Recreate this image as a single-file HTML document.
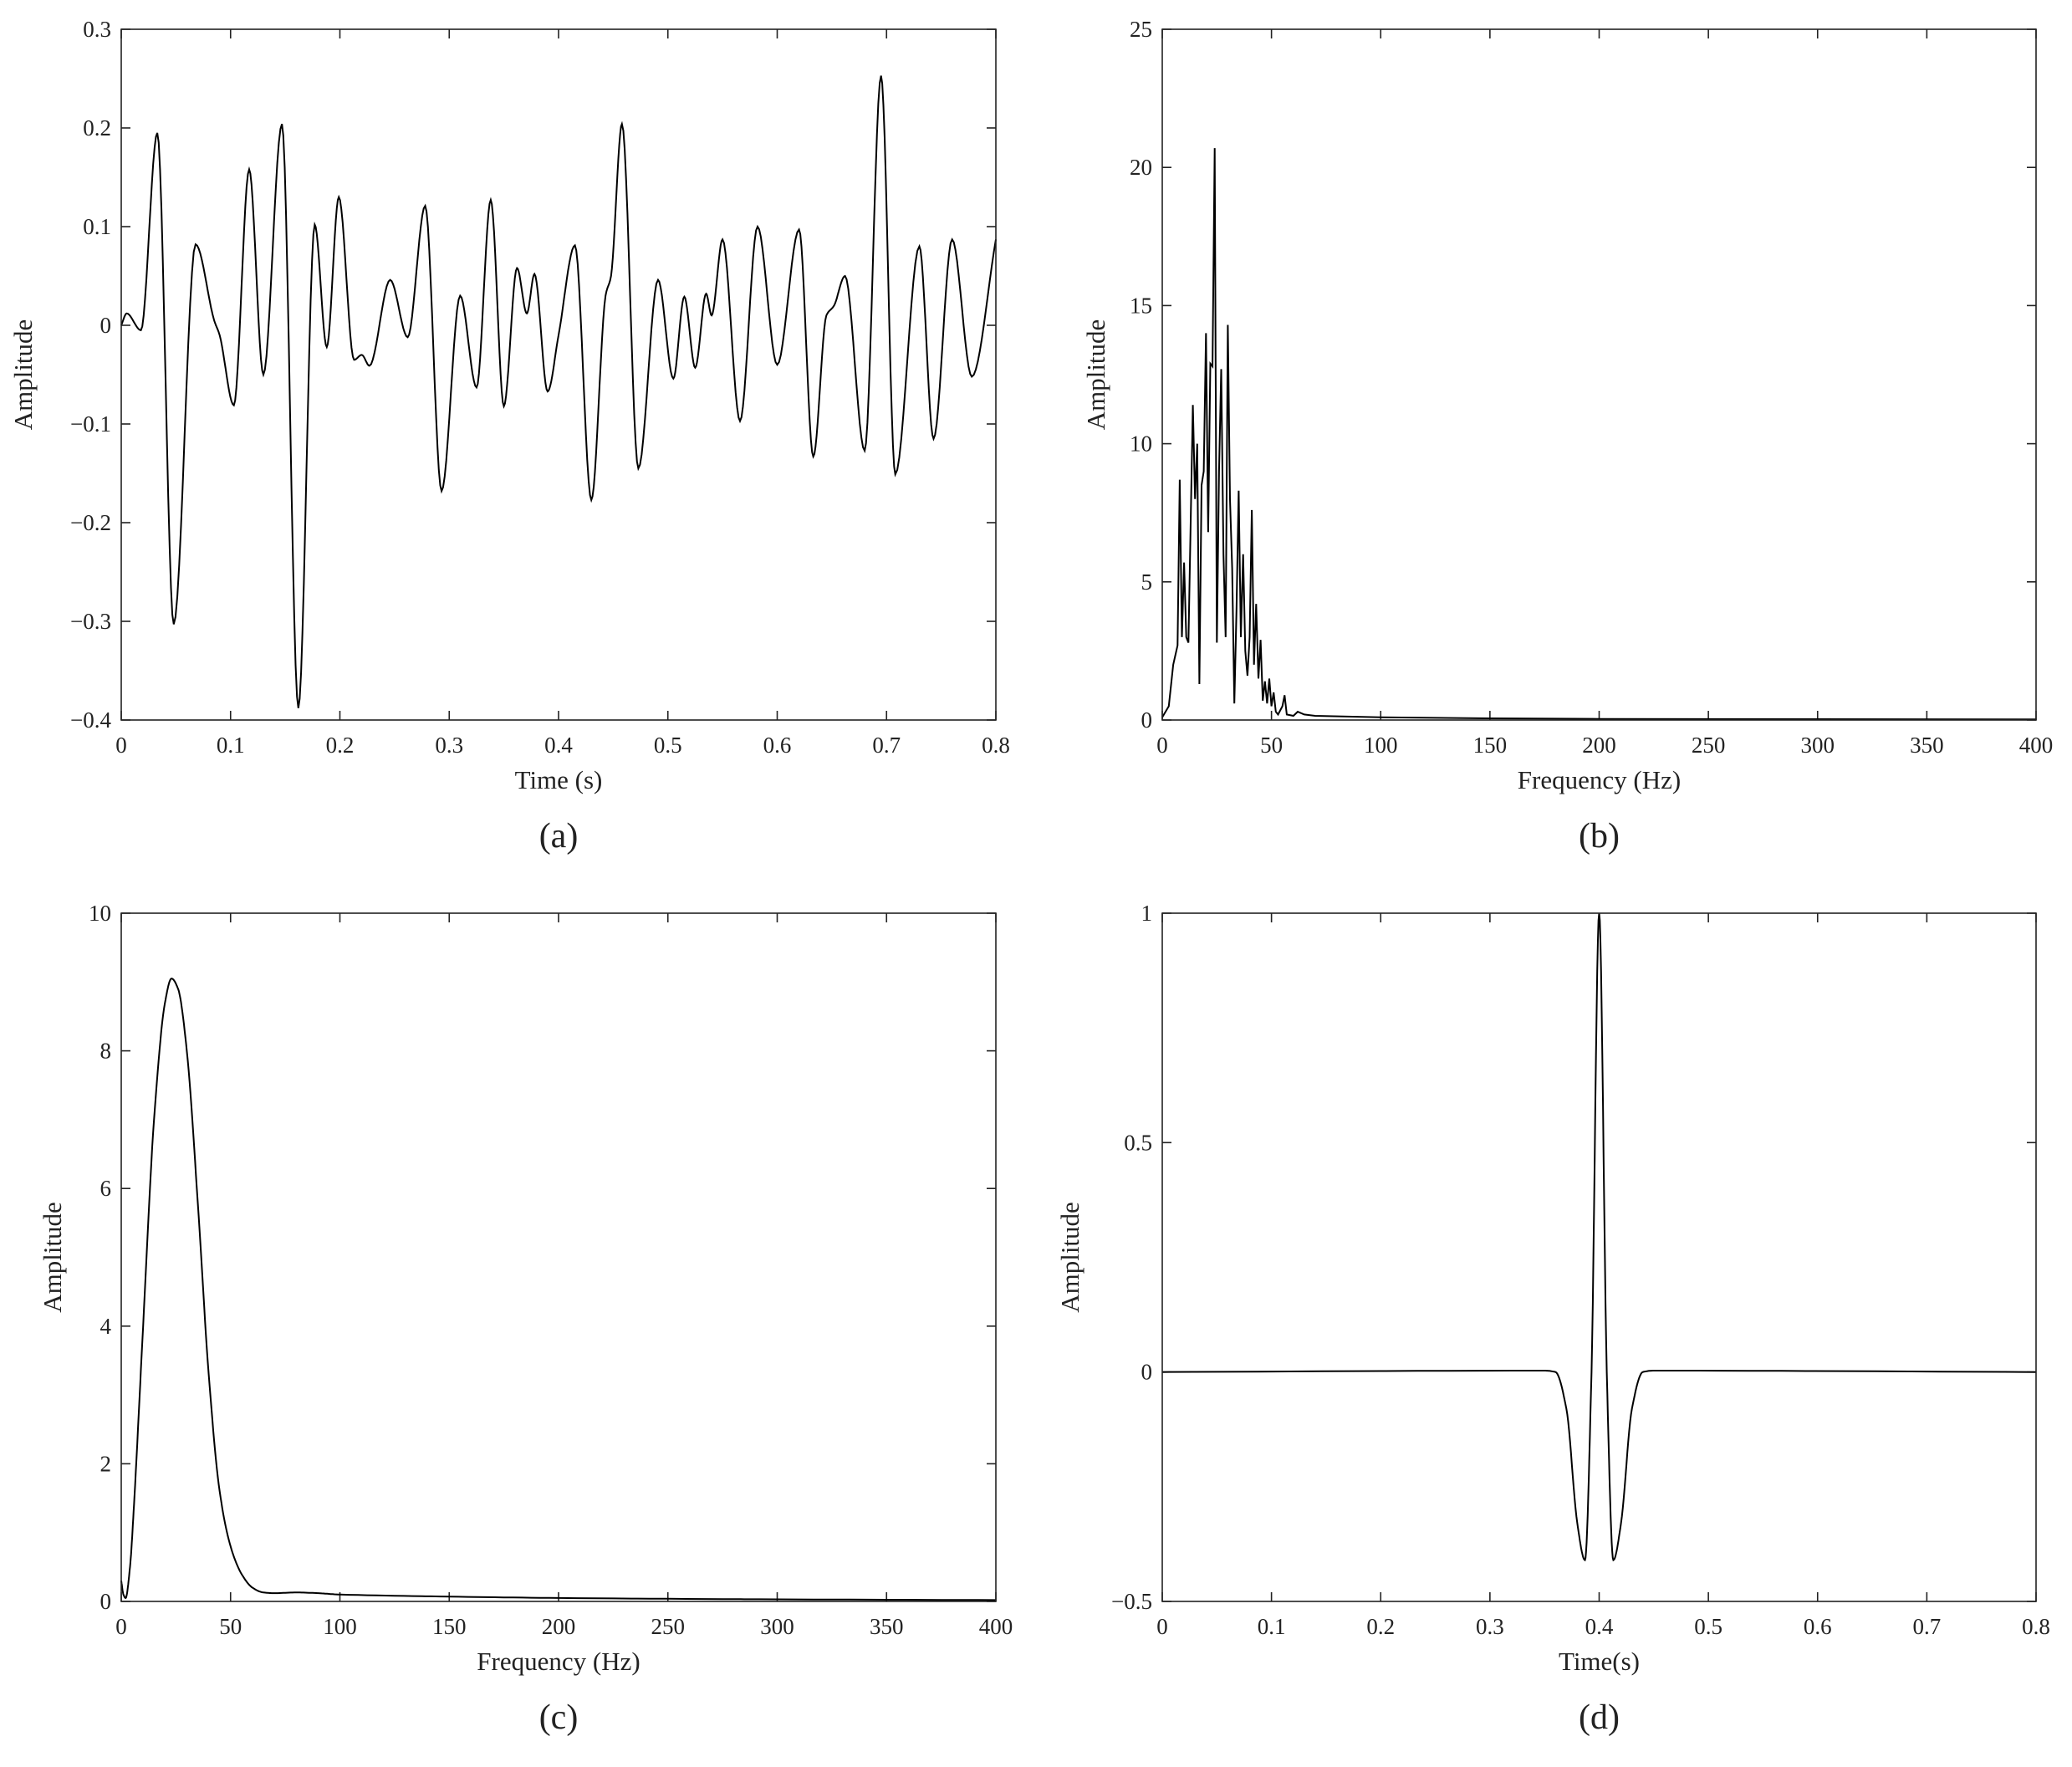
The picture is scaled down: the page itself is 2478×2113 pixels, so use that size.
<!DOCTYPE html>
<html><head><meta charset="utf-8"><style>
html,body{margin:0;padding:0;background:#fff}
svg{display:block}
text{font-family:"Liberation Serif",serif;fill:#222}
</style></head><body>
<svg id="fig" width="2478" height="2113" viewBox="0 0 2478 2113" xmlns="http://www.w3.org/2000/svg"></svg>
<script>
// Panel (a) seismic trace
const aTimes=[0,0.005,0.018,0.033,0.048,0.068,0.085,0.09,0.103,0.117,0.13,0.147,0.162,0.177,0.188,0.199,0.213,0.22,0.227,0.246,0.262,0.278,0.293,0.31,0.325,0.338,0.35,0.362,0.371,0.378,0.39,0.4,0.415,0.43,0.443,0.448,0.458,0.473,0.491,0.505,0.515,0.525,0.535,0.54,0.55,0.566,0.582,0.6,0.62,0.633,0.645,0.652,0.662,0.68,0.695,0.708,0.73,0.743,0.76,0.778,0.8];
const aValues=[0,0.012,-0.005,0.195,-0.303,0.082,0.005,-0.01,-0.081,0.158,-0.05,0.204,-0.388,0.102,-0.022,0.13,-0.035,-0.03,-0.041,0.046,-0.012,0.121,-0.168,0.03,-0.063,0.127,-0.082,0.058,0.012,0.052,-0.067,-0.01,0.081,-0.177,0.03,0.05,0.204,-0.145,0.046,-0.054,0.029,-0.043,0.032,0.01,0.087,-0.097,0.1,-0.04,0.097,-0.133,0.01,0.02,0.05,-0.127,0.253,-0.151,0.08,-0.115,0.087,-0.052,0.087];
// Panel (b) amplitude spectrum
const bFreqs=[0,3,5,7,8,9,10,11,12,14,15,16,17,18,19,20,21,22,23,24,25,26,27,28,29,30,31,32,33,34,35,36,37,38,39,40,41,42,43,44,45,46,47,48,49,50,51,52,53,55,56,57,60,62,65,70,100,150,200,300,400];
const bAmps=[0.1,0.5,2,2.7,8.7,3,5.7,3,2.8,11.4,8,10,1.3,8.5,9,14,6.8,12.9,12.8,20.7,2.8,9,12.7,6,3,14.3,8,5.5,0.6,4,8.3,3,6,2.5,1.6,3,7.6,2,4.2,1.5,2.9,0.7,1.4,0.6,1.5,0.5,1,0.3,0.2,0.5,0.9,0.2,0.15,0.3,0.2,0.15,0.1,0.06,0.04,0.03,0.02];
// Panel (c) wavelet spectrum
const cFreqs=[0,1,2,4,6,10,15,20,23,26,30,35,40,45,50,55,60,65,70,80,90,100,150,200,300,400];
const cAmps=[0.3,0.1,0.05,0.5,1.5,4,7,8.7,9.05,8.9,8,5.8,3.3,1.6,0.8,0.4,0.2,0.13,0.12,0.13,0.12,0.1,0.07,0.05,0.03,0.02];
// Panel (d) Ricker wavelet
const dTimes=[0,0.35,0.36,0.37,0.38,0.387,0.393,0.4,0.407,0.413,0.42,0.43,0.44,0.45,0.8];
const dValues=[0,0.003,0,-0.08,-0.33,-0.41,0,1,0,-0.41,-0.33,-0.08,0,0.003,0];
// ticks
const aXTicks=[0,0.1,0.2,0.3,0.4,0.5,0.6,0.7,0.8];
const aYTicks=[-0.4,-0.3,-0.2,-0.1,0,0.1,0.2,0.3];
const aYLabels=["\u22120.4","\u22120.3","\u22120.2","\u22120.1","0","0.1","0.2","0.3"];
const fXTicks=[0,50,100,150,200,250,300,350,400];
const bYTicks=[0,5,10,15,20,25];
const cYTicks=[0,2,4,6,8,10];
const dYTicks=[-0.5,0,0.5,1];
const dYLabels=["\u22120.5","0","0.5","1"];

const NS="http://www.w3.org/2000/svg";
const fig=document.getElementById('fig');
function mk(tag,attrs,parent){const e=document.createElementNS(NS,tag);for(const k in attrs)e.setAttribute(k,attrs[k]);(parent||fig).appendChild(e);return e;}

function mono(xs,ys,n){
  const m=xs.length,d=[],s=[];
  for(let i=0;i<m-1;i++)s.push((ys[i+1]-ys[i])/(xs[i+1]-xs[i]));
  for(let i=0;i<m;i++){
    if(i==0)d.push(s[0]);else if(i==m-1)d.push(s[m-2]);
    else d.push(s[i-1]*s[i]<=0?0:2/(1/s[i-1]+1/s[i]));
  }
  const out=[];
  for(let i=0;i<m-1;i++){const h=xs[i+1]-xs[i];
    for(let k=0;k<n;k++){const t=k/n,t2=t*t,t3=t2*t;
      const y=(2*t3-3*t2+1)*ys[i]+(t3-2*t2+t)*h*d[i]+(-2*t3+3*t2)*ys[i+1]+(t3-t2)*h*d[i+1];
      out.push([xs[i]+t*h,y]);}}
  out.push([xs[m-1],ys[m-1]]);return out;
}

function panel(p){
  const g=mk('g',{});
  
  
  const X=v=>p.L+(v-p.x0)/(p.x1-p.x0)*(p.R-p.L);
  const Y=v=>p.B-(v-p.y0)/(p.y1-p.y0)*(p.B-p.T);
  p.xt.forEach(v=>{const x=X(v);
    const t=mk('line',{x1:x,x2:x,y1:p.B,y2:p.B-11,stroke:'#222','stroke-width':1.6},g);
    
    mk('line',{x1:x,x2:x,y1:p.T,y2:p.T+11,stroke:'#222','stroke-width':1.6},g);
    const l=mk('text',{x:x,y:p.B+39,'font-size':27,'text-anchor':'middle'},g);l.textContent=String(v);
    });
  p.yt.forEach((v,i)=>{const y=Y(v);
    const t=mk('line',{x1:p.L,x2:p.L+11,y1:y,y2:y,stroke:'#222','stroke-width':1.6},g);
    
    mk('line',{x1:p.R,x2:p.R-11,y1:y,y2:y,stroke:'#222','stroke-width':1.6},g);
    const l=mk('text',{x:p.L-12,y:y+9,'font-size':27,'text-anchor':'end'},g);l.textContent=p.yl?p.yl[i]:String(v);
    });
  const pts=p.smooth?mono(p.xs,p.ys,12):p.xs.map((x,i)=>[x,p.ys[i]]);
  const path=mk('path',{d:'M'+pts.map(q=>X(q[0]).toFixed(1)+','+Y(q[1]).toFixed(1)).join('L'),fill:'none',stroke:'#000','stroke-width':2},g);
  
  const box=mk('rect',{x:p.L,y:p.T,width:p.R-p.L,height:p.B-p.T,fill:'none',stroke:'#222','stroke-width':1.6},g);
  
  const xl=mk('text',{x:(p.L+p.R)/2,y:p.B+82,'font-size':31,'text-anchor':'middle'},g);xl.textContent=p.xlab;
  
  const yl=mk('text',{x:0,y:0,'font-size':31,'text-anchor':'middle',transform:`translate(${p.ylx},${(p.T+p.B)/2}) rotate(-90)`},g);yl.textContent='Amplitude';
  
  const cap=mk('text',{x:(p.L+p.R)/2,y:p.B+152,'font-size':42,'text-anchor':'middle'},g);cap.textContent=p.cap;
  
}
panel({name:'panel-a',L:145,R:1191,T:35,B:861,x0:0,x1:0.8,y0:-0.4,y1:0.3,xt:aXTicks,yt:aYTicks,yl:aYLabels,xs:aTimes,ys:aValues,smooth:true,xlab:'Time (s)',ylx:38,cap:'(a)'});
panel({name:'panel-b',L:1390,R:2435,T:35,B:861,x0:0,x1:400,y0:0,y1:25,xt:fXTicks,yt:bYTicks,xs:bFreqs,ys:bAmps,smooth:false,xlab:'Frequency (Hz)',ylx:1321,cap:'(b)'});
panel({name:'panel-c',L:145,R:1191,T:1092,B:1915,x0:0,x1:400,y0:0,y1:10,xt:fXTicks,yt:cYTicks,xs:cFreqs,ys:cAmps,smooth:true,xlab:'Frequency (Hz)',ylx:73,cap:'(c)'});
panel({name:'panel-d',L:1390,R:2435,T:1092,B:1915,x0:0,x1:0.8,y0:-0.5,y1:1,xt:aXTicks,yt:dYTicks,yl:dYLabels,xs:dTimes,ys:dValues,smooth:true,xlab:'Time(s)',ylx:1290,cap:'(d)'});
</script>
</body></html>
